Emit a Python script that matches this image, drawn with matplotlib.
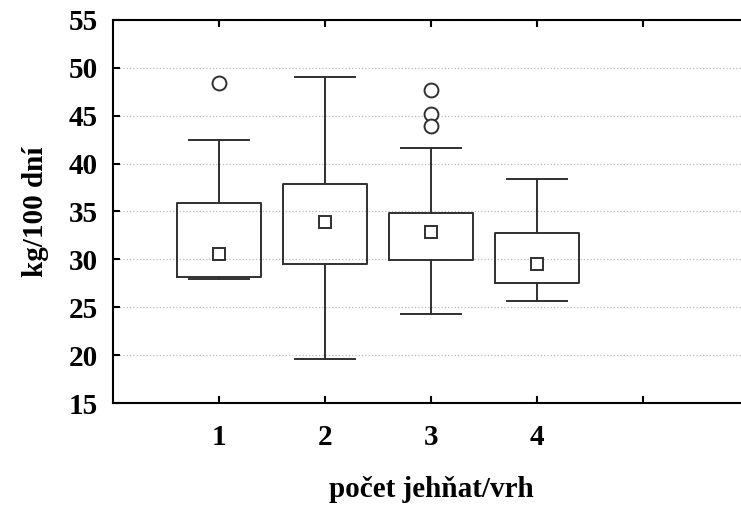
import matplotlib
matplotlib.use("Agg")
import matplotlib.pyplot as plt

# === Data (kg/100 dní per litter size) ===
groups = [1, 2, 3, 4]
q1 = [28.2, 29.5, 29.9, 27.5]
q3 = [35.9, 37.9, 34.8, 32.8]
medians = [30.6, 33.9, 32.9, 29.5]
whisker_lo = [28.0, 19.6, 24.3, 25.7]
whisker_hi = [42.5, 49.0, 41.6, 38.4]
outliers = [[48.4], [], [47.7, 45.2, 43.9], []]

plt.rcParams['font.family'] = ['Liberation Serif', 'DejaVu Serif']
plt.rcParams['font.weight'] = 'bold'

fig = plt.figure(figsize=(7.41, 5.13), dpi=100)
# axes runs past the right edge, as in the cropped original
ax = fig.add_axes([113 / 741, 110 / 513, 636 / 741, 383 / 513])

stats = []
for i in range(len(groups)):
    stats.append({
        'med': medians[i], 'q1': q1[i], 'q3': q3[i],
        'whislo': whisker_lo[i], 'whishi': whisker_hi[i],
        'fliers': outliers[i], 'label': str(groups[i]),
    })

line_col = '#303030'
ax.bxp(stats, positions=groups, widths=0.8, showfliers=True,
       boxprops=dict(color=line_col, linewidth=1.4),
       whiskerprops=dict(color=line_col, linewidth=1.4),
       capprops=dict(color=line_col, linewidth=1.4),
       capwidths=0.57,
       medianprops=dict(linewidth=0),
       flierprops=dict(marker='o', markersize=10, markerfacecolor='white',
                       markeredgecolor=line_col, markeredgewidth=1.4))

# median shown as small square
ax.plot(groups, medians, 's', markersize=9, markerfacecolor='white',
        markeredgecolor=line_col, markeredgewidth=1.4, zorder=5)

ax.set_xlim(0, 6)
ax.set_ylim(15, 55)
ax.set_xticks([1, 2, 3, 4, 5])
ax.set_xticklabels(['1', '2', '3', '4', ''])
ax.set_yticks(range(15, 56, 5))

ax.grid(axis='y', color='#bbbbbb', linestyle=':', linewidth=0.9)
ax.set_axisbelow(True)

for s in ax.spines.values():
    s.set_linewidth(1.5)

ax.tick_params(axis='x', direction='in', length=5, width=1.5, top=True,
               labelsize=21, pad=15)
ax.tick_params(axis='y', direction='in', length=5, width=1.5,
               labelsize=21, pad=11)

ax.set_xlabel('počet jehňat/vrh', fontsize=21, fontweight='bold', labelpad=18)
ax.set_ylabel('kg/100 dní', fontsize=21, fontweight='bold', labelpad=14)

fig.savefig('out.png', dpi=100)
